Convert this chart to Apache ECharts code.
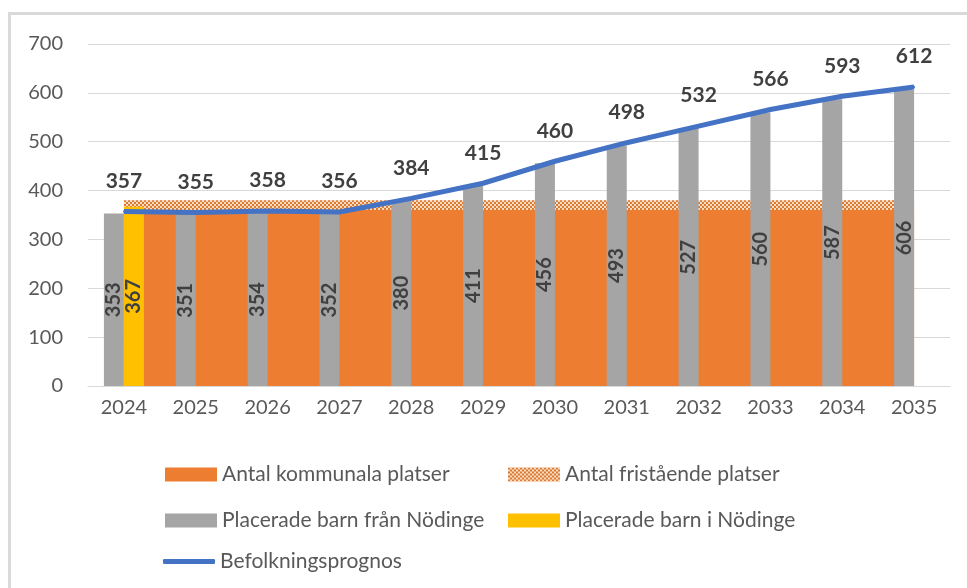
<!DOCTYPE html>
<html lang="sv" style="height: 100%;width: 100%">
<head>
    <meta charset="utf-8">
</head>
<body style="height: 100%;width: 100%; margin: 0; background: #fff">
<div id="container" style="height: 100%;width: 100%;"></div>

<script type="text/javascript" src="https://cdn.jsdelivr.net/npm/echarts@6.0.0/dist/echarts.min.js"></script>
<script type="text/javascript">
    // data
    var years = ['2024', '2025', '2026', '2027', '2028', '2029', '2030', '2031', '2032', '2033', '2034', '2035'];
    var kommunala = [360, 360, 360, 360, 360, 360, 360, 360, 360, 360, 360, 360];
    var fristaende = [20, 20, 20, 20, 20, 20, 20, 20, 20, 20, 20, 20];
    var franNodinge = [353, 351, 354, 352, 380, 411, 456, 493, 527, 560, 587, 606];
    var iNodinge = [367, '-', '-', '-', '-', '-', '-', '-', '-', '-', '-', '-'];
    var befolkning = [357, 355, 358, 356, 384, 415, 460, 498, 532, 566, 593, 612];
    var yTicks = [0, 100, 200, 300, 400, 500, 600, 700];

    var dom = document.getElementById('container');
    var myChart = echarts.init(dom, null, {
        renderer: 'canvas',
        useDirtyRect: false
    });

    var fontName = 'Lato';
    var textColor = '#595959';
    var labelColor = '#404040';

    // rutmönster för fristående platser
    var patternCanvas = document.createElement('canvas');
    patternCanvas.width = 4;
    patternCanvas.height = 4;
    var ctx = patternCanvas.getContext('2d');
    ctx.fillStyle = '#f8dcc2';
    ctx.fillRect(0, 0, 4, 4);
    ctx.fillStyle = '#db7a33';
    ctx.fillRect(0, 0, 2, 2);
    ctx.fillRect(2, 2, 2, 2);
    var pattern = {image: patternCanvas, repeat: 'repeat'};

    function legendBox(item, left, top, height) {
        return {
            data: [item],
            left: left,
            top: top,
            itemWidth: 52,
            itemHeight: height || 14,
            selectedMode: false,
            textStyle: {
                fontFamily: fontName,
                fontSize: 21,
                color: textColor
            }
        };
    }

    var option = {
        animation: false,
        backgroundColor: '#fff',
        graphic: [{
            type: 'rect',
            silent: true,
            shape: {x: 9.5, y: 13.5, width: 1100, height: 1100},
            style: {fill: 'none', stroke: '#d9d9d9', lineWidth: 3}
        }],
        grid: {
            left: 88,
            right: 17,
            top: 44,
            bottom: 202
        },
        legend: [
            legendBox({name: 'Antal kommunala platser', icon: 'rect'}, 160, 459),
            legendBox({name: 'Antal fristående platser', icon: 'rect', itemStyle: {color: pattern}}, 503, 459),
            legendBox({name: 'Placerade barn från Nödinge', icon: 'rect'}, 160, 505),
            legendBox({name: 'Placerade barn i Nödinge', icon: 'rect'}, 503, 505),
            legendBox({name: 'Befolkningsprognos', icon: 'roundRect'}, 158, 546, 5)
        ],
        xAxis: {
            type: 'category',
            data: years,
            axisLine: {
                lineStyle: {color: '#d9d9d9', width: 1}
            },
            axisTick: {show: false},
            axisLabel: {
                fontFamily: fontName,
                fontSize: 20,
                color: textColor,
                margin: 12
            }
        },
        yAxis: {
            type: 'value',
            min: yTicks[0],
            max: yTicks[yTicks.length - 1],
            interval: 100,
            axisLine: {show: false},
            axisTick: {show: false},
            splitLine: {
                lineStyle: {color: '#d9d9d9', width: 1}
            },
            axisLabel: {
                fontFamily: fontName,
                fontSize: 20,
                color: textColor,
                margin: 25
            }
        },
        series: [
            {
                name: 'Antal kommunala platser',
                type: 'line',
                stack: 'platser',
                data: kommunala,
                symbol: 'none',
                z: 1,
                itemStyle: {color: '#ed7d31'},
                lineStyle: {width: 0},
                areaStyle: {color: '#ed7d31', opacity: 1}
            },
            {
                name: 'Antal fristående platser',
                type: 'line',
                stack: 'platser',
                data: fristaende,
                symbol: 'none',
                z: 1,
                itemStyle: {color: '#db7a33'},
                lineStyle: {width: 0},
                areaStyle: {color: pattern, opacity: 1}
            },
            {
                name: 'Placerade barn från Nödinge',
                type: 'bar',
                data: franNodinge,
                barWidth: 20,
                barGap: '0%',
                z: 2,
                itemStyle: {color: '#a5a5a5'},
                label: {
                    show: true,
                    position: 'inside',
                    rotate: 90,
                    fontFamily: fontName,
                    fontSize: 20,
                    fontWeight: 'bold',
                    color: labelColor
                }
            },
            {
                name: 'Placerade barn i Nödinge',
                type: 'bar',
                data: iNodinge,
                barWidth: 20,
                barGap: '0%',
                z: 2,
                itemStyle: {color: '#ffc000'},
                label: {
                    show: true,
                    position: 'inside',
                    rotate: 90,
                    fontFamily: fontName,
                    fontSize: 20,
                    fontWeight: 'bold',
                    color: labelColor
                }
            },
            {
                name: 'Befolkningsprognos',
                type: 'line',
                data: befolkning,
                symbol: 'circle',
                symbolSize: 2,
                z: 4,
                itemStyle: {color: '#4472c4'},
                lineStyle: {color: '#4472c4', width: 5},
                label: {
                    show: true,
                    position: 'top',
                    distance: 19,
                    fontFamily: fontName,
                    fontSize: 21,
                    fontWeight: 'bold',
                    color: labelColor
                }
            }
        ]
    };

    myChart.setOption(option);
</script>
</body>
</html>
